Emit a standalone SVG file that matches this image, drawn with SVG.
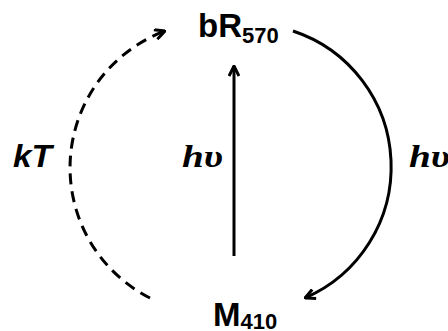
<svg xmlns="http://www.w3.org/2000/svg" width="448" height="331" viewBox="0 0 448 331">
<style>
.lbl{font-family:"Liberation Sans",Arial,sans-serif;font-weight:bold;fill:#000}
.it{font-family:"Liberation Sans",Arial,sans-serif;font-weight:bold;font-style:italic;fill:#000}
.hv{font-family:"Liberation Serif","Times New Roman",serif;font-weight:bold;font-style:italic;fill:#000}
.ln{fill:none;stroke:#000;stroke-width:3}
.dash{stroke-dasharray:11 7}
</style>
<defs>
<marker id="ah" viewBox="0 0 12 12" refX="11" refY="6" markerWidth="12" markerHeight="12" markerUnits="userSpaceOnUse" orient="auto">
<path d="M1,1 L11,6 L1,11" fill="none" stroke="#000" stroke-width="3" stroke-linejoin="miter"/>
</marker>
</defs>
<rect width="448" height="331" fill="#fff"/>
<g id="connectors">
<path class="ln" d="M234,256 L234,66" marker-end="url(#ah)"/>
<path class="ln" d="M293,31 A143,143 0 0 1 305,298" marker-end="url(#ah)"/>
<path class="ln dash" d="M150,298 A146,146 0 0 1 165,31" marker-end="url(#ah)"/>
</g>
<g id="bR570"><text class="lbl" x="198" y="37" font-size="33">bR<tspan font-size="22" dy="6">570</tspan></text></g>
<g id="M410"><text class="lbl" x="213" y="326" font-size="33">M<tspan font-size="22" dy="3">410</tspan></text></g>
<g id="kT"><text class="it" x="13" y="167" font-size="31" textLength="39" lengthAdjust="spacingAndGlyphs">kT</text></g>
<g id="hv1"><text class="hv" x="182" y="167" font-size="32" textLength="41" lengthAdjust="spacingAndGlyphs">hυ</text></g>
<g id="hv2"><text class="hv" x="409" y="167" font-size="32" textLength="41" lengthAdjust="spacingAndGlyphs">hυ</text></g>
</svg>
